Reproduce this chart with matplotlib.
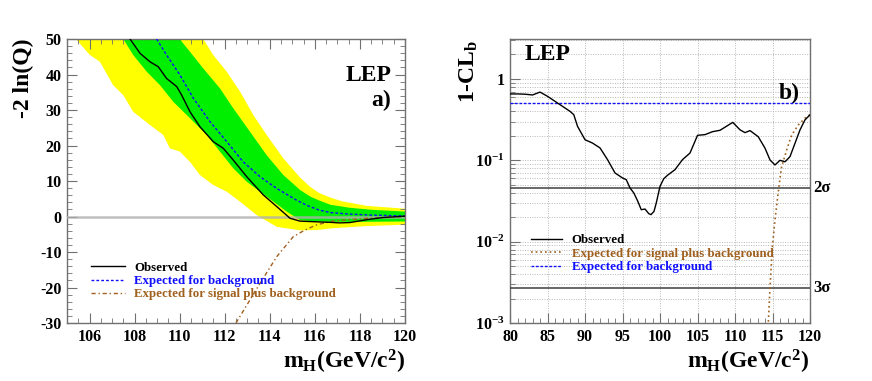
import numpy as np
import matplotlib
matplotlib.use("Agg")
import matplotlib.pyplot as plt
import matplotlib.transforms as mtransforms
from matplotlib.ticker import MultipleLocator, FixedLocator, FixedFormatter, LogLocator, NullFormatter

plt.rcParams['font.family'] = ['Liberation Serif', 'DejaVu Serif']
plt.rcParams['font.weight'] = 'bold'
plt.rcParams['mathtext.fontset'] = 'custom'
plt.rcParams['mathtext.rm'] = 'Liberation Serif:bold'
plt.rcParams['mathtext.it'] = 'Liberation Serif:bold'
plt.rcParams['mathtext.bf'] = 'Liberation Serif:bold'
plt.rcParams['axes.unicode_minus'] = False

# ---- panel a): -2 ln(Q) vs mH ----
obs_x = [107.8, 108.24, 108.68, 109.05, 109.42, 109.87, 110.09, 110.46, 110.9, 111.49, 111.94,
         112.38, 112.98, 113.71, 114.31, 114.9, 115.34, 116.1, 116.67, 117.1, 117.56, 118.3, 119.0, 120.0]
obs_y = [50.0, 46.0, 43.6, 42.2, 38.9, 36.6, 34.2, 29.5, 25.3, 21.1, 19.2,
         15.9, 11.2, 6.1, 2.8, -0.5, -1.3, -1.5, -1.64, -1.8, -1.7, -0.9, -0.3, 0.1]

bkg_x = [108.98, 109.42, 110.01, 110.61, 111.35, 112.09, 112.82, 113.57, 114.31, 115.19,
         115.7, 116.2, 116.7, 117.5, 118.5, 120.0]
bkg_y = [50.0, 45.5, 39.9, 33.3, 26.7, 21.1, 15.4, 11.2, 7.9, 4.6,
         3.0, 1.8, 1.1, 0.7, 0.4, 0.15]

sb_x = [112.5, 113.57, 114.31, 115.04, 115.56, 116.1, 116.8, 117.5, 118.3, 120.0]
sb_y = [-30.0, -18.8, -11.3, -5.7, -3.8, -2.3, -1.3, -0.9, -0.5, 0.0]

green_up_x = [107.5, 110.0, 110.46, 111.05, 111.79, 112.38, 113.12, 113.86, 114.6, 115.34,
              115.8, 116.2, 116.7, 117.5, 118.5, 120.0]
green_up_y = [50.0, 50.0, 46.4, 41.7, 36.1, 30.5, 23.9, 17.3, 11.7, 7.5,
              5.6, 4.5, 3.3, 2.5, 1.9, 1.4]
green_lo_x = [107.5, 107.94, 108.54, 109.13, 109.72, 110.46, 111.2, 111.79, 112.38, 112.98,
              113.57, 114.16, 114.75, 115.34, 116.0, 116.7, 118.0, 120.0]
green_lo_y = [50.0, 45.5, 40.8, 37.0, 32.3, 27.7, 23.0, 18.3, 13.6, 9.8,
              7.0, 4.2, 1.4, -1.0, -1.4, -1.5, -1.5, -1.4]

yellow_up_x = [105.4, 111.05, 111.49, 112.09, 112.68, 113.27, 113.86, 114.6, 115.34,
               115.8, 116.2, 116.7, 117.2, 118.3, 120.0]
yellow_up_y = [50.0, 50.0, 45.5, 40.8, 35.2, 28.6, 23.0, 16.4, 11.0,
               8.3, 6.6, 5.3, 4.3, 3.0, 2.2]
yellow_lo_x = [105.4, 106.0, 106.46, 107.05, 107.5, 107.94, 108.68, 109.27, 109.57, 110.01,
               110.46, 110.9, 111.49, 112.09, 112.68, 113.42, 114.31, 115.34, 116.1, 116.8,
               118.3, 120.0]
yellow_lo_y = [50.0, 45.6, 43.6, 37.0, 34.2, 29.5, 25.8, 23.0, 19.2, 18.3,
               15.4, 11.7, 8.9, 7.0, 4.2, 0.4, -2.9, -3.9, -3.8, -3.3,
               -2.7, -2.3]

# ---- panel b): 1-CLb vs mH ----
clb_x = [80, 81, 82, 83, 84, 85, 86, 87, 88, 88.5, 89, 90, 91, 92, 93, 94, 95, 95.5, 96, 96.5,
         97, 97.5, 98, 98.5, 98.8, 99.2, 99.5, 100, 100.5, 101, 102, 103, 104, 105, 106, 107,
         108, 109, 109.7, 110.67, 111.33, 112, 113.1, 114, 114.67, 115.33, 116, 116.67, 117.33,
         118, 118.67, 119.33, 120]
clb_y = [0.655, 0.655, 0.65, 0.636, 0.69, 0.612, 0.531, 0.461, 0.40, 0.364, 0.262, 0.179, 0.163,
         0.142, 0.102, 0.0699, 0.0607, 0.0578, 0.0457, 0.0398, 0.0319, 0.0247, 0.0252, 0.0221,
         0.0215, 0.0236, 0.0299, 0.0479, 0.0595, 0.0655, 0.0768, 0.102, 0.123, 0.203, 0.207,
         0.225, 0.234, 0.267, 0.293, 0.237, 0.219, 0.232, 0.195, 0.141, 0.101, 0.0877, 0.100,
         0.096, 0.111, 0.162, 0.237, 0.314, 0.363]
clb_sb_x = [114.3, 114.44, 114.67, 114.98, 115.33, 115.64, 115.91, 116.22, 116.89, 117.56,
            118.44, 119.33, 120.0]
clb_sb_y = [0.0007, 0.001, 0.0028, 0.0087, 0.0185, 0.0326, 0.0522, 0.0838, 0.134, 0.205,
            0.272, 0.33, 0.363]
clb_bkg = 0.5
sigma_levels = [0.0455, 0.0027]
sigma_labels = ['2σ', '3σ']

BROWN = '#a0601e'
BLUE = '#1010ff'
FRAME = '#707070'

fig = plt.figure(figsize=(8.72, 3.81), dpi=100)
ax1 = fig.add_axes([0.0768, 0.1522, 0.3876, 0.7454])
ax2 = fig.add_axes([0.5849, 0.1522, 0.344, 0.7454])

# panel a
ax1.fill(np.concatenate([yellow_up_x, yellow_lo_x[::-1]]),
         np.concatenate([yellow_up_y, yellow_lo_y[::-1]]), color='#ffff00', lw=0, zorder=1)
ax1.fill(np.concatenate([green_up_x, green_lo_x[::-1]]),
         np.concatenate([green_up_y, green_lo_y[::-1]]), color='#00ee00', lw=0, zorder=2)
ax1.axhline(0, color='#b0b0b0', lw=1.8, alpha=0.8, zorder=3)
ax1.plot(obs_x, obs_y, color='black', lw=1.0, zorder=5, label='Observed')
ax1.plot(bkg_x, bkg_y, color=BLUE, lw=1.0, ls=(0, (2, 1.5)), zorder=4,
         label='Expected for background')
ax1.plot(sb_x, sb_y, color=BROWN, lw=1.0, ls=(0, (3, 2, 1, 2)), zorder=4,
         label='Expected for signal plus background')
ax1.set_xlim(105, 120)
ax1.set_ylim(-30, 50)
ax1.xaxis.set_major_locator(MultipleLocator(2))
ax1.xaxis.set_minor_locator(MultipleLocator(0.5))
ax1.yaxis.set_major_locator(MultipleLocator(10))
ax1.yaxis.set_minor_locator(MultipleLocator(2))
ax1.tick_params(which='both', direction='in', top=True, right=True, color=FRAME,
                labelsize=11.5, pad=4)
ax1.tick_params(which='major', length=7)
ax1.tick_params(which='minor', length=3.5)
ax1.legend(loc='upper left', bbox_to_anchor=(0.071, 0.216), frameon=False,
           fontsize=9.3, handlelength=2.6, handletextpad=0.75, labelspacing=0.1,
           borderpad=0, borderaxespad=0, labelcolor=['black', BLUE, BROWN])
ax1.text(0.96, 0.873, 'LEP', transform=ax1.transAxes, ha='right', va='center', fontsize=17)
ax1.text(0.96, 0.785, 'a)', transform=ax1.transAxes, ha='right', va='center', fontsize=17)
fig.text(0.027, 1 - 38 / 381, '-2 ln(Q)', rotation=90, ha='center', va='top', fontsize=17)
fig.text(405 / 872, 1 - 362 / 381, r'$\mathregular{m_H}$(GeV/c$^\mathregular{2}$)',
         ha='right', va='center', fontsize=17)

# panel b
ax2.plot(clb_x, clb_y, color='black', lw=1.0, zorder=5, label='Observed')
ax2.plot(clb_sb_x, clb_sb_y, color=BROWN, lw=1.2, ls=(0, (1, 1.8)), zorder=4,
         label='Expected for signal plus background')
ax2.axhline(clb_bkg, color=BLUE, lw=1.0, ls=(0, (2, 1.2)), zorder=4,
            label='Expected for background')
for lev in sigma_levels:
    ax2.axhline(lev, color='#404040', lw=1.1, zorder=3)
trans = mtransforms.blended_transform_factory(ax2.transAxes, ax2.transData)
for lev, lab in zip(sigma_levels, sigma_labels):
    ax2.text(1.012, lev, lab, transform=trans, ha='left', va='center', fontsize=12)
ax2.set_yscale('log')
ax2.set_xlim(80, 120)
ax2.set_ylim(1e-3, 3.1)
ax2.xaxis.set_major_locator(MultipleLocator(5))
ax2.xaxis.set_minor_locator(MultipleLocator(1))
ax2.yaxis.set_major_locator(FixedLocator([1e-3, 1e-2, 1e-1, 1]))
ax2.yaxis.set_major_formatter(FixedFormatter([r'$10^{-3}$', r'$10^{-2}$', r'$10^{-1}$', '1']))
ax2.yaxis.set_minor_locator(LogLocator(base=10, subs=np.arange(2, 10), numticks=20))
ax2.yaxis.set_minor_formatter(NullFormatter())
ax2.grid(True, which='major', axis='x', color='#b8b8b8', ls=(0, (1, 1.5)), lw=0.7)
ax2.grid(True, which='both', axis='y', color='#b8b8b8', ls=(0, (1, 1.5)), lw=0.7)
ax2.set_axisbelow(True)
ax2.tick_params(which='both', direction='in', color=FRAME, labelsize=11.5, pad=4)
ax2.tick_params(which='major', length=7)
ax2.tick_params(which='minor', length=3.5)
ax2.legend(loc='upper left', bbox_to_anchor=(0.07, 0.312), frameon=False,
           fontsize=9.3, handlelength=2.4, handletextpad=0.75, labelspacing=0.1,
           borderpad=0, borderaxespad=0, labelcolor=['black', BROWN, BLUE])
ax2.text(0.05, 0.947, 'LEP', transform=ax2.transAxes, ha='left', va='center', fontsize=17)
ax2.text(0.967, 0.81, 'b)', transform=ax2.transAxes, ha='right', va='center', fontsize=17)
fig.text(469 / 872, 1 - 40 / 381, r'1-CL$_\mathregular{b}$', rotation=90, ha='center',
         va='top', fontsize=17)
fig.text(809 / 872, 1 - 362 / 381, r'$\mathregular{m_H}$(GeV/c$^\mathregular{2}$)',
         ha='right', va='center', fontsize=17)

for ax in (ax1, ax2):
    for sp in ax.spines.values():
        sp.set_color(FRAME)
        sp.set_linewidth(1.0)

fig.savefig('out.png', dpi=100)
